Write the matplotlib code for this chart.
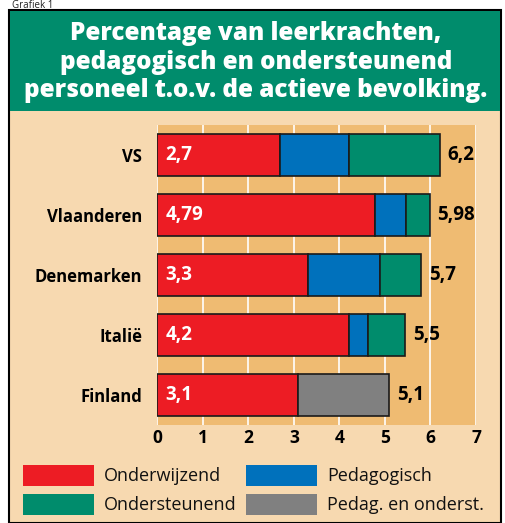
import matplotlib
matplotlib.use('Agg')
import matplotlib.pyplot as plt
from matplotlib.patches import Rectangle
import numpy as np

# Data.
landen = ['VS', 'Vlaanderen', 'Denemarken', 'Italië', 'Finland']
onderwijzend = [2.7, 4.79, 3.3, 4.2, 3.1]
pedagogisch = [1.5, 0.68, 1.6, 0.43, 0.0]
ondersteunend = [2.0, 0.51, 0.9, 0.82, 0.0]
pedag_onderst = [0.0, 0.0, 0.0, 0.0, 2.0]
label_binnen = ['2,7', '4,79', '3,3', '4,2', '3,1']
label_totaal = ['6,2', '5,98', '5,7', '5,5', '5,1']

series = ['Onderwijzend', 'Pedagogisch', 'Ondersteunend', 'Pedag. en onderst.']
colors = ['#ED1C24', '#0071BC', '#008C6C', '#808080']

W, H = 505, 523
green = '#008C6C'
beige = '#F7D9B0'
orange = '#EFBB72'
font = 'Open Sans'

fig = plt.figure(figsize=(W / 100, H / 100), dpi=100)
fig.patch.set_facecolor('white')

def fx(px):
    return px / W

def fy(py):
    return 1 - py / H

# Frame, header and background.
fig.patches.append(Rectangle((fx(9), fy(523)), fx(501) - fx(9), fy(10) - fy(523),
                             transform=fig.transFigure, facecolor=beige,
                             edgecolor='black', linewidth=1.5, zorder=0))
fig.patches.append(Rectangle((fx(10), fy(111)), fx(500) - fx(10), fy(11) - fy(111),
                             transform=fig.transFigure, facecolor=green,
                             edgecolor='none', zorder=1))
fig.text(fx(12), fy(0.5), 'Grafiek 1', fontsize=7, family=font, color='#222222',
         ha='left', va='top')
fig.text(fx(256), fy(62), 'Percentage van leerkrachten,\npedagogisch en ondersteunend\npersoneel t.o.v. de actieve bevolking.',
         fontsize=17.5, family=font, fontweight=800, color='white',
         ha='center', va='center', linespacing=1.2)

# Plot area.
ax = fig.add_axes([fx(157.3), fy(425), fx(476) - fx(157.3), fy(125) - fy(425)])
ax.set_zorder(5)
ax.set_facecolor(orange)
y = np.arange(len(landen))
left = np.zeros(len(landen))
for vals, c in zip([onderwijzend, pedagogisch, ondersteunend, pedag_onderst], colors):
    vals = np.array(vals)
    mask = vals > 0
    ax.barh(y[mask], vals[mask], left=left[mask], height=0.7, color=c,
            edgecolor='#1a1a1a', linewidth=1.2, zorder=3)
    left += vals

for i in range(len(landen)):
    ax.text(0.18, y[i], label_binnen[i], color='white', fontsize=13.5,
            fontweight='bold', family=font, ha='left', va='center', zorder=4)
    ax.text(left[i] + 0.17, y[i], label_totaal[i], color='black', fontsize=13.5,
            fontweight='bold', family=font, ha='left', va='center', zorder=4)

ax.set_xlim(0, 7)
ax.set_ylim(4.5, -0.5)
ax.set_xticks(range(8))
ax.set_yticks(y)
ax.set_yticklabels(landen)
for s in ax.spines.values():
    s.set_visible(False)
ax.tick_params(axis='both', length=0)
ax.tick_params(axis='x', pad=3)
ax.tick_params(axis='y', pad=11)
for lab in ax.get_xticklabels():
    lab.set_fontsize(12.5)
    lab.set_fontweight('bold')
    lab.set_family(font)
for lab in ax.get_yticklabels():
    lab.set_fontsize(12)
    lab.set_fontweight('bold')
    lab.set_family(font)
for xv in range(8):
    ax.axvline(xv, color='white', linewidth=1.2, zorder=1)

# Legend, drawn by hand.
leg_pos = [(23, 465), (246, 465), (23, 494), (246, 494)]
for (lx, ly), name, c in zip(leg_pos, series, colors):
    fig.patches.append(Rectangle((fx(lx), fy(ly + 21)), fx(71), 21 / H,
                                 transform=fig.transFigure, facecolor=c,
                                 edgecolor='none', zorder=2))
    fig.text(fx(lx + 81), fy(ly + 11), name, fontsize=13, family=font,
             color='#111111', ha='left', va='center')

fig.savefig('out.png', dpi=100)
